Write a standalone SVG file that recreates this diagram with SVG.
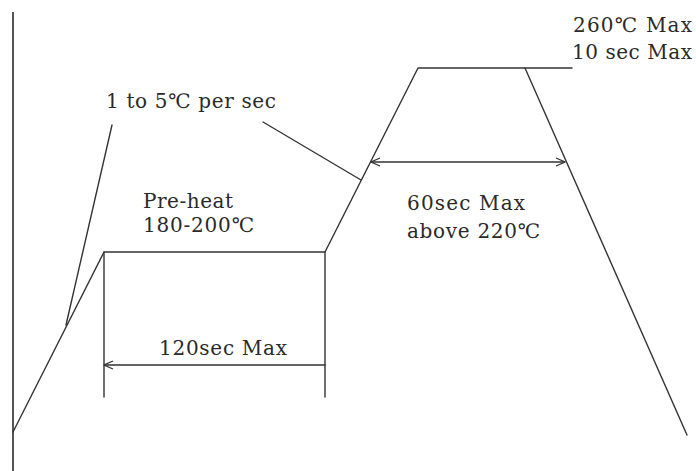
<svg xmlns="http://www.w3.org/2000/svg" width="696" height="471" viewBox="0 0 696 471">
<defs>
<style>
.ln{stroke:#333;stroke-width:1.4;fill:none;stroke-linecap:round;stroke-linejoin:round}
.ax{stroke:#555;stroke-width:2;fill:none}
</style>
<marker id="ah" viewBox="-10 0 10 10" refX="0" refY="5" markerWidth="10" markerHeight="10" markerUnits="userSpaceOnUse" orient="auto-start-reverse">
<path d="M-9,1 L0,5 L-9,9" fill="none" stroke="#333" stroke-width="1.2"/>
</marker>
</defs>
<rect width="696" height="471" fill="#fff"/>
<g id="axis">
<line class="ax" x1="13" y1="12" x2="13" y2="471"/>
</g>
<g id="connectors">
<polyline id="profile" class="ln" points="13,432 104,252 325,252 418,68 525,68 687,435"/>
<line class="ln" x1="525" y1="68" x2="572" y2="68"/>
<line class="ln" x1="104" y1="252" x2="104" y2="397"/>
<line class="ln" x1="325" y1="252" x2="325" y2="397"/>
<line class="ln" x1="104" y1="365" x2="325" y2="365" marker-start="url(#ah)"/>
<line class="ln" x1="371" y1="162" x2="565" y2="162" marker-start="url(#ah)" marker-end="url(#ah)"/>
<line class="ln" x1="66" y1="325" x2="112" y2="125"/>
<line class="ln" x1="263" y1="122" x2="361" y2="180"/>
</g>
<g style="font-family:'DejaVu Serif','Noto Sans CJK SC',serif;font-size:20px" fill="#2a2a2a">
<g id="label-rate">
<text x="106" y="108" textLength="170" lengthAdjust="spacing">1 to 5℃ per sec</text>
</g>
<g id="label-preheat">
<text x="143" y="208" textLength="90" lengthAdjust="spacing">Pre-heat</text>
<text x="143" y="232" textLength="111" lengthAdjust="spacing">180-200℃</text>
</g>
<g id="label-120">
<text x="159" y="355" textLength="128" lengthAdjust="spacing">120sec Max</text>
</g>
<g id="label-60">
<text x="407" y="210" textLength="118" lengthAdjust="spacing">60sec Max</text>
<text x="407" y="238" textLength="133" lengthAdjust="spacing">above 220℃</text>
</g>
<g id="label-peak">
<text x="573" y="32" textLength="119" lengthAdjust="spacing">260℃ Max</text>
<text x="572" y="59" textLength="120" lengthAdjust="spacing">10 sec Max</text>
</g>
</g>
</svg>
